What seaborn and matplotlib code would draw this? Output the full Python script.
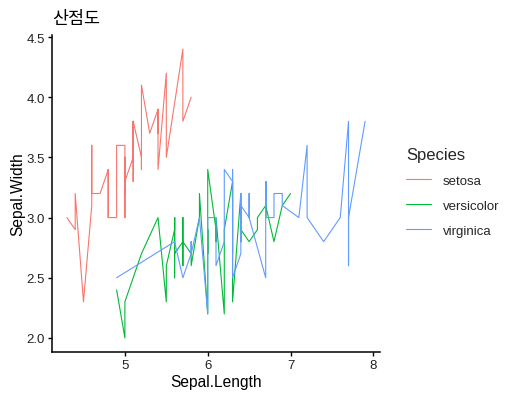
import matplotlib
matplotlib.use("Agg")
import matplotlib.pyplot as plt
import seaborn as sns
import pandas as pd
import numpy as np

setosa_len = [5.1,4.9,4.7,4.6,5.0,5.4,4.6,5.0,4.4,4.9,5.4,4.8,4.8,4.3,5.8,5.7,5.4,5.1,5.7,5.1,
              5.4,5.1,4.6,5.1,4.8,5.0,5.0,5.2,5.2,4.7,4.8,5.4,5.2,5.5,4.9,5.0,5.5,4.9,4.4,5.1,
              5.0,4.5,4.4,5.0,5.1,4.8,5.1,4.6,5.3,5.0]
setosa_wid = [3.5,3.0,3.2,3.1,3.6,3.9,3.4,3.4,2.9,3.1,3.7,3.4,3.0,3.0,4.0,4.4,3.9,3.5,3.8,3.8,
              3.4,3.7,3.6,3.3,3.4,3.0,3.4,3.5,3.4,3.2,3.1,3.4,4.1,4.2,3.1,3.2,3.5,3.6,3.0,3.4,
              3.5,2.3,3.2,3.5,3.8,3.0,3.8,3.2,3.7,3.3]
versicolor_len = [7.0,6.4,6.9,5.5,6.5,5.7,6.3,4.9,6.6,5.2,5.0,5.9,6.0,6.1,5.6,6.7,5.6,5.8,6.2,5.6,
                  5.9,6.1,6.3,6.1,6.4,6.6,6.8,6.7,6.0,5.7,5.5,5.5,5.8,6.0,5.4,6.0,6.7,6.3,5.6,5.5,
                  5.5,6.1,5.8,5.0,5.6,5.7,5.7,6.2,5.1,5.7]
versicolor_wid = [3.2,3.2,3.1,2.3,2.8,2.8,3.3,2.4,2.9,2.7,2.0,3.0,2.2,2.9,2.9,3.1,3.0,2.7,2.2,2.5,
                  3.2,2.8,2.5,2.8,2.9,3.0,2.8,3.0,2.9,2.6,2.4,2.4,2.7,2.7,3.0,3.4,3.1,2.3,3.0,2.5,
                  2.6,3.0,2.6,2.3,2.7,3.0,2.9,2.9,2.5,2.8]
virginica_len = [6.3,5.8,7.1,6.3,6.5,7.6,4.9,7.3,6.7,7.2,6.5,6.4,6.8,5.7,5.8,6.4,6.5,7.7,7.7,6.0,
                 6.9,5.6,7.7,6.3,6.7,7.2,6.2,6.1,6.4,7.2,7.4,7.9,6.4,6.3,6.1,7.7,6.3,6.4,6.0,6.9,
                 6.7,6.9,5.8,6.8,6.7,6.7,6.3,6.5,6.2,5.9]
virginica_wid = [3.3,2.7,3.0,2.9,3.0,3.0,2.5,2.9,2.5,3.6,3.2,2.7,3.0,2.5,2.8,3.2,3.0,3.8,2.6,2.2,
                 3.2,2.8,2.8,2.7,3.3,3.2,2.8,3.0,2.8,3.0,2.8,3.8,2.8,2.8,2.6,3.0,3.4,3.1,3.0,3.1,
                 3.1,3.1,2.7,3.2,3.3,3.0,2.5,3.0,3.4,3.0]
species = ["setosa", "versicolor", "virginica"]
colors = ["#F8766D", "#00BA38", "#619CFF"]

frames = []
for sp, xl, yl in [("setosa", setosa_len, setosa_wid),
                   ("versicolor", versicolor_len, versicolor_wid),
                   ("virginica", virginica_len, virginica_wid)]:
    d = pd.DataFrame({"Sepal.Length": xl, "Sepal.Width": yl, "Species": sp})
    d = d.sort_values("Sepal.Length", kind="stable")
    frames.append(d)
df = pd.concat(frames, ignore_index=True)

sns.set_theme(style="ticks")
plt.rcParams['font.family'] = ['Liberation Sans', 'Noto Sans CJK KR', 'DejaVu Sans']

fig = plt.figure(figsize=(5.09, 4.02), dpi=100)
W, H = 509, 402
ax = fig.add_axes([52 / W, (H - 353.4) / H, (380 - 52) / W, (353.4 - 35.6) / H])

sns.lineplot(data=df, x="Sepal.Length", y="Sepal.Width", hue="Species",
             hue_order=species, palette=colors, sort=False, estimator=None,
             linewidth=0.8, ax=ax)

ax.set_xlim(4.12, 8.08)
ax.set_ylim(1.88, 4.52)
ax.set_xticks([5, 6, 7, 8])
ax.set_yticks([2.0, 2.5, 3.0, 3.5, 4.0, 4.5])
ax.set_yticklabels(["2.0", "2.5", "3.0", "3.5", "4.0", "4.5"])
for s in ["top", "right"]:
    ax.spines[s].set_visible(False)
for s in ["left", "bottom"]:
    ax.spines[s].set_color("black")
    ax.spines[s].set_linewidth(1.1)
ax.tick_params(axis="both", colors="black", labelcolor="#222222", labelsize=9.5,
               length=3, width=1.0, pad=2)
ax.set_xlabel("Sepal.Length", fontsize=11.2, color="black", labelpad=2)
ax.set_ylabel("Sepal.Width", fontsize=11.2, color="black", labelpad=1)
ax.set_title("산점도", loc="left", fontsize=12.5, color="black", pad=8,
             family=['Noto Sans CJK KR', 'DejaVu Sans'])

handles, labels = ax.get_legend_handles_labels()
ax.get_legend().remove()
leg = fig.legend(handles, labels, title="Species", loc="upper left",
                 bbox_to_anchor=(394 / W, 1 - 136 / H), frameon=False,
                 fontsize=9.5, title_fontsize=12, handlelength=1.9,
                 labelspacing=0.97, handletextpad=0.9, alignment="left")

fig.savefig("out.png", dpi=100)
